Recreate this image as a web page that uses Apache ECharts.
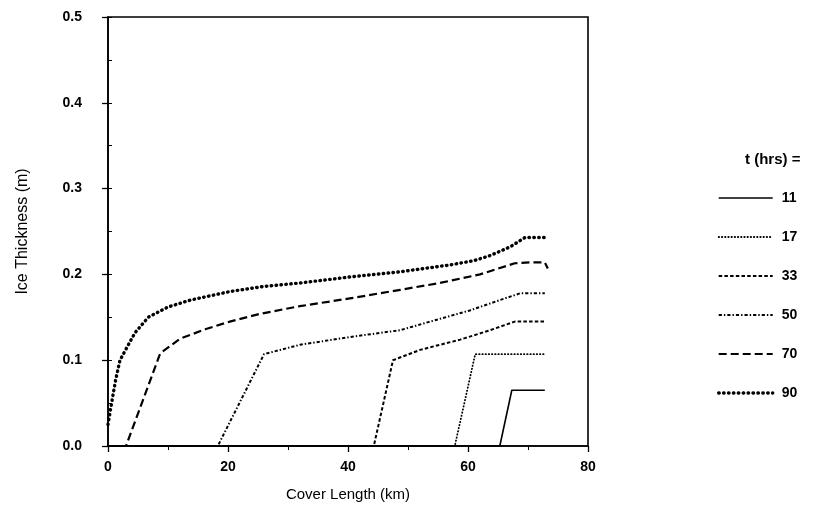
<!DOCTYPE html>
<html>
<head>
<meta charset="utf-8">
<script src="https://cdn.jsdelivr.net/npm/echarts@6/dist/echarts.min.js"></script>
<style>
  html, body { margin: 0; padding: 0; background: #fff; }
  #chart { width: 822px; height: 527px; }
</style>
</head>
<body>
<div id="chart"></div>
<script>
// Ice thickness profiles along the cover at several elapsed times
const times = ['11', '17', '33', '50', '70', '90'];

const len11 = [0, 65.3, 67.3, 72.8];
const thk11 = [0, 0, 0.065, 0.065];

const len17 = [0, 57.8, 61.2, 72.8];
const thk17 = [0, 0, 0.107, 0.107];

const len33 = [0, 44.3, 47.5, 52, 58.7, 63.7, 67.8, 72.8];
const thk33 = [0, 0, 0.1, 0.112, 0.124, 0.135, 0.145, 0.145];

const len50 = [0, 18.3, 26, 32, 40.3, 48.7, 53.7, 60.3, 65.3, 68.7, 72.8];
const thk50 = [0, 0, 0.107, 0.118, 0.127, 0.135, 0.145, 0.158, 0.17, 0.178, 0.178];

const len70 = [0, 3, 8.7, 12, 16.2, 20.3, 25.3, 32, 40.3, 48.7, 55.3, 62, 67.8, 70.3, 72.8, 73.3];
const thk70 = [0, 0, 0.108, 0.125, 0.136, 0.145, 0.154, 0.163, 0.172, 0.182, 0.19, 0.2, 0.213, 0.214, 0.214, 0.207];

const len90 = [0, 0.7, 1.3, 2, 3, 4.5, 6.7, 10, 13.7, 20.3, 26, 32, 40.3, 48.7, 57, 61, 63.7, 67, 69.5, 72.8];
const thk90 = [0.025, 0.054, 0.078, 0.1, 0.113, 0.132, 0.15, 0.162, 0.17, 0.18, 0.186, 0.19, 0.197, 0.203, 0.211, 0.216, 0.222, 0.232, 0.243, 0.243];

const xTicks = [0, 20, 40, 60, 80];
const yTicks = [0.0, 0.1, 0.2, 0.3, 0.4, 0.5];

const lengths = [len11, len17, len33, len50, len70, len90];
const thicknesses = [thk11, thk17, thk33, thk50, thk70, thk90];

// Dash pattern, width and cap for each curve
const dashes = [
  { type: 'solid', width: 1.6, cap: 'butt' },
  { type: [0.4, 2.8], width: 1.8, cap: 'round' },
  { type: [3.5, 2.2], width: 2, cap: 'butt' },
  { type: [3.2, 2, 1.4, 2], width: 2, cap: 'butt' },
  { type: [8, 4], width: 2.2, cap: 'butt' },
  { type: [0.5, 4.4], width: 3.4, cap: 'round' }
];

const pairs = (xs, ys) => xs.map((x, i) => [x, ys[i]]);

const font = '"Liberation Sans", Arial, sans-serif';

const styleOf = i => ({
  color: '#000',
  width: dashes[i].width,
  type: dashes[i].type,
  cap: dashes[i].cap,
  join: 'round'
});

const series = times.map((t, i) => ({
  name: t,
  type: 'line',
  data: pairs(lengths[i], thicknesses[i]),
  showSymbol: false,
  symbol: 'none',
  animation: false,
  lineStyle: styleOf(i),
  itemStyle: { color: '#000' },
  z: 3
}));

const chart = echarts.init(document.getElementById('chart'), null, { renderer: 'canvas' });

chart.setOption({
  animation: false,
  backgroundColor: '#fff',
  grid: {
    left: 108, right: 234, top: 17, bottom: 81,
    show: true, borderColor: '#000', borderWidth: 1.6, backgroundColor: 'transparent'
  },
  title: {
    text: 't (hrs) =',
    left: 740, top: 147,
    textStyle: { fontFamily: font, fontSize: 15, fontWeight: 'bold', color: '#000' }
  },
  legend: {
    orient: 'vertical',
    left: 712, top: 186,
    itemWidth: 54, itemHeight: 14, itemGap: 25,
    itemStyle: { color: 'transparent', borderColor: 'transparent', borderWidth: 0, opacity: 0 },
    textStyle: { fontFamily: font, fontSize: 14, fontWeight: 'bold', color: '#000', padding: [0, 0, 0, 4] },
    data: times.map((t, i) => ({ name: t, lineStyle: styleOf(i) }))
  },
  xAxis: [{
    type: 'value',
    min: xTicks[0], max: xTicks[xTicks.length - 1], interval: 20,
    name: 'Cover Length (km)',
    nameLocation: 'middle', nameGap: 41,
    nameTextStyle: { fontFamily: font, fontSize: 15, color: '#000' },
    axisLine: { show: true, onZero: false, lineStyle: { color: '#000', width: 1.6 } },
    axisTick: { show: true, length: 6, lineStyle: { color: '#000', width: 1.3 } },
    minorTick: { show: true, splitNumber: 2, length: 4, lineStyle: { color: '#000', width: 1 } },
    splitLine: { show: false },
    axisLabel: { margin: 14, fontFamily: font, fontSize: 14, fontWeight: 'bold', color: '#000' }
  }],
  yAxis: [{
    type: 'value',
    min: yTicks[0], max: yTicks[yTicks.length - 1], interval: 0.1,
    name: 'Ice Thickness (m)',
    nameLocation: 'middle', nameGap: 77, nameRotate: 90,
    nameTextStyle: { fontFamily: font, fontSize: 16, color: '#000' },
    axisLine: { show: true, onZero: false, lineStyle: { color: '#000', width: 1.6 } },
    axisTick: { show: true, length: 6, lineStyle: { color: '#000', width: 1.3 } },
    splitLine: { show: false },
    axisLabel: {
      margin: 26, fontFamily: font, fontSize: 14, fontWeight: 'bold', color: '#000',
      formatter: v => v.toFixed(1)
    }
  }, {
    // half-step ticks on the inside of the left axis
    type: 'value', position: 'left',
    min: 0, max: 0.5, interval: 0.05,
    axisLine: { show: false },
    axisTick: { show: true, inside: true, length: 4, lineStyle: { color: '#000', width: 1 } },
    axisLabel: { show: false },
    splitLine: { show: false }
  }],
  series: series
});
</script>
</body>
</html>
